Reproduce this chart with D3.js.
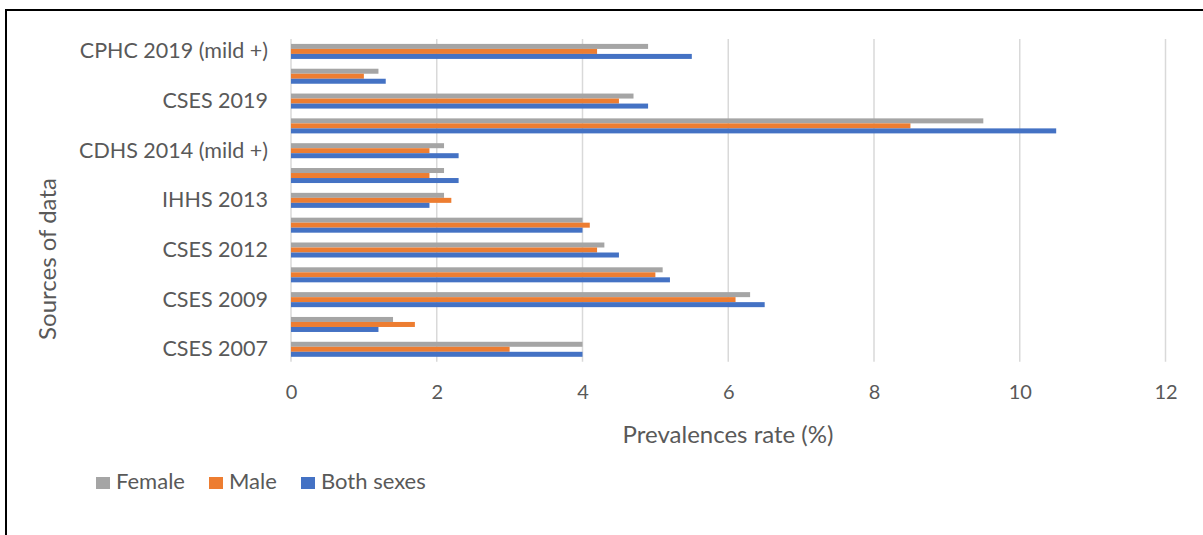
<!DOCTYPE html>
<html>
<head>
<meta charset="utf-8">
<script src="https://cdn.jsdelivr.net/npm/d3@7/dist/d3.min.js"></script>
<style>
  html, body { margin: 0; padding: 0; background: #fff; }
  svg text { font-family: Lato, "Open Sans", sans-serif; fill: #595959; }
</style>
</head>
<body>
<svg id="chart" width="1203" height="535"></svg>
<script>
// Categories from bottom to top (only every other label is shown, as in the reference)
const categories = [
  "CSES 2007", "CSES 2008", "CSES 2009", "CSES 2010", "CSES 2012", "CSES 2013",
  "IHHS 2013", "CSES 2014", "CDHS 2014 (mild +)", "CSES 2017", "CSES 2019",
  "CPHC 2019 (moderate +)", "CPHC 2019 (mild +)"
];
const shownLabels = [
  "CSES 2007", "CSES 2009", "CSES 2012", "IHHS 2013",
  "CDHS 2014 (mild +)", "CSES 2019", "CPHC 2019 (mild +)"
];
const female = [4.0, 1.4, 6.3, 5.1, 4.3, 4.0, 2.1, 2.1, 2.1, 9.5, 4.7, 1.2, 4.9];
const male   = [3.0, 1.7, 6.1, 5.0, 4.2, 4.1, 2.2, 1.9, 1.9, 8.5, 4.5, 1.0, 4.2];
const both   = [4.0, 1.2, 6.5, 5.2, 4.5, 4.0, 1.9, 2.3, 2.3, 10.5, 4.9, 1.3, 5.5];
const seriesNames = ["Female", "Male", "Both sexes"];
const seriesColors = ["#A5A5A5", "#ED7D31", "#4472C4"];
const xTicks = [0, 2, 4, 6, 8, 10, 12];

const seriesValues = [female, male, both];
const svg = d3.select("#chart");

// frame (left and top edges visible)
svg.append("line").attr("x1", 6).attr("x2", 6).attr("y1", 10).attr("y2", 535)
  .attr("stroke", "#000").attr("stroke-width", 2);
svg.append("line").attr("x1", 5).attr("x2", 1203).attr("y1", 10).attr("y2", 10)
  .attr("stroke", "#000").attr("stroke-width", 2);

const plotTop = 39, plotBottom = 361.7;
const x = d3.scaleLinear().domain([0, 12]).range([291, 1165.5]);
const y = d3.scaleBand().domain(categories.slice().reverse())
  .range([plotTop, plotBottom]).paddingInner(0.395).paddingOuter(0.1975);
const ySub = d3.scaleBand().domain(seriesNames).range([0, y.bandwidth()]);

// gridlines
svg.append("g").selectAll("line").data(xTicks).join("line")
  .attr("x1", d => x(d)).attr("x2", d => x(d))
  .attr("y1", plotTop).attr("y2", plotBottom)
  .attr("stroke", "#d9d9d9").attr("stroke-width", 1.5);

// bars
const groups = svg.append("g").selectAll("g").data(categories).join("g")
  .attr("transform", d => `translate(0,${y(d)})`);
groups.selectAll("rect")
  .data((d, i) => seriesNames.map((s, j) => ({ s, v: seriesValues[j][i], c: seriesColors[j] })))
  .join("rect")
  .attr("x", x(0))
  .attr("y", d => ySub(d.s))
  .attr("width", d => x(d.v) - x(0))
  .attr("height", ySub.bandwidth())
  .attr("fill", d => d.c);

// x axis tick labels
const xAxis = d3.axisBottom(x).tickValues(xTicks).tickSize(0).tickPadding(0);
const gx = svg.append("g").attr("transform", `translate(0,${plotBottom + 23})`).call(xAxis);
gx.select(".domain").remove();
gx.selectAll("text").attr("font-size", 20).style("font-family", "Lato, sans-serif").attr("fill", "#595959");

// y axis labels
const yAxis = d3.axisLeft(y).tickSize(0).tickPadding(0)
  .tickFormat(d => shownLabels.includes(d) ? d : "");
const gy = svg.append("g").attr("transform", `translate(268,0)`).call(yAxis);
gy.select(".domain").remove();
gy.selectAll("text").attr("font-size", 21.5).style("font-family", "Lato, sans-serif").attr("fill", "#595959");

// axis titles
svg.append("text").attr("x", 728).attr("y", 442.5).attr("text-anchor", "middle")
  .attr("font-size", 24).text("Prevalences rate (%)");
svg.append("text").attr("transform", "translate(55.5,259) rotate(-90)")
  .attr("text-anchor", "middle").attr("font-size", 24).text("Sources of data");

// legend
const legendX = [96, 209, 301];
const lg = svg.append("g").selectAll("g").data(seriesNames).join("g")
  .attr("transform", (d, i) => `translate(${legendX[i]},477)`);
lg.append("rect").attr("width", 14).attr("height", 12).attr("fill", (d, i) => seriesColors[i]);
lg.append("text").attr("x", 20).attr("y", 12).attr("font-size", 22).text(d => d);
</script>
</body>
</html>
